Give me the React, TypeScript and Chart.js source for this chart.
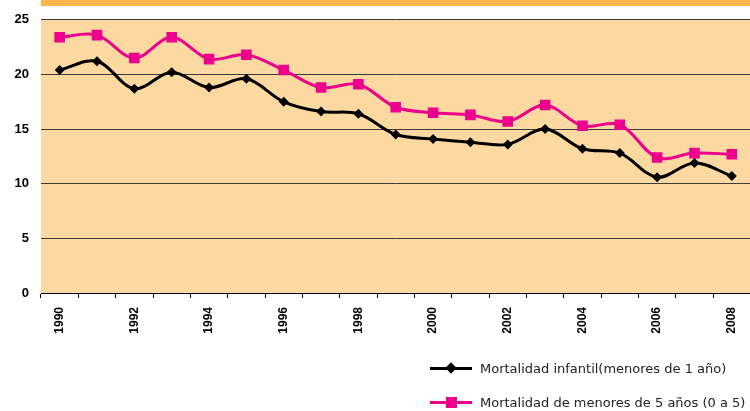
import React, { useEffect, useRef } from "react";
import { Chart, registerables } from "chart.js";

Chart.register(...registerables);

const years = ["1990","1991","1992","1993","1994","1995","1996","1997","1998","1999","2000","2001","2002","2003","2004","2005","2006","2007","2008"];
const infantil = [20.4, 21.2, 18.7, 20.2, 18.8, 19.6, 17.5, 16.6, 16.4, 14.5, 14.1, 13.8, 13.6, 15.0, 13.2, 12.8, 10.6, 11.9, 10.7];
const menores5 = [23.4, 23.6, 21.5, 23.4, 21.4, 21.8, 20.4, 18.8, 19.1, 17.0, 16.5, 16.3, 15.7, 17.2, 15.3, 15.4, 12.4, 12.8, 12.7];
const yTicks = [0, 5, 10, 15, 20, 25];
const legendLabels = ["Mortalidad infantil(menores de 1 año)", "Mortalidad de menores de 5 años (0 a 5)"];

const BLACK = "#000000";
const PINK = "#EC008C";
const PLOT_BG = "#FDD9A2";
const BAND = "#FBB64C";

const bgPlugin = {
  id: "bgPlugin",
  beforeDraw(chart: any) {
    const { ctx, chartArea } = chart;
    ctx.save();
    ctx.fillStyle = PLOT_BG;
    ctx.fillRect(chartArea.left, chartArea.top, chartArea.right - chartArea.left, chartArea.bottom - chartArea.top);
    ctx.fillStyle = BAND;
    ctx.fillRect(chartArea.left, 0, chart.width - chartArea.left, 6);
    ctx.restore();
  },
};

export default function App() {
  const ref = useRef<HTMLCanvasElement | null>(null);
  useEffect(() => {
    document.body.style.margin = "0";
    const chart = new Chart(ref.current!, {
      type: "line",
      data: {
        labels: years,
        datasets: [
          {
            label: legendLabels[0],
            data: infantil,
            borderColor: BLACK,
            backgroundColor: BLACK,
            borderWidth: 3,
            pointStyle: "rectRot",
            pointRadius: 5,
            pointBackgroundColor: BLACK,
            pointBorderColor: BLACK,
            pointBorderWidth: 0,
            tension: 0.35,
          },
          {
            label: legendLabels[1],
            data: menores5,
            borderColor: PINK,
            backgroundColor: PINK,
            borderWidth: 3,
            pointStyle: "rect",
            pointRadius: 7.5,
            pointBackgroundColor: PINK,
            pointBorderColor: PINK,
            pointBorderWidth: 0,
            tension: 0.35,
          },
        ],
      },
      options: {
        animation: false,
        responsive: false,
        maintainAspectRatio: false,
        layout: { padding: { top: 19, right: 0, left: 0, bottom: 0 } },
        plugins: { legend: { display: false }, tooltip: { enabled: false } },
        scales: {
          x: {
            type: "category",
            offset: true,
            grid: {
              offset: true,
              display: true,
              drawOnChartArea: false,
              drawTicks: true,
              tickLength: 5,
              color: "#000",
              lineWidth: 1,
            },
            border: { display: true, color: "#000", width: 1 },
            ticks: {
              autoSkip: false,
              minRotation: 90,
              maxRotation: 90,
              padding: 9,
              color: "#000",
              font: { family: "'Liberation Sans', Arial, sans-serif", size: 12, weight: "bold" },
              callback: (_v: any, i: number) => (i % 2 === 0 ? years[i] : ""),
            },
            afterFit: (s: any) => { s.height = 118; },
          },
          y: {
            min: 0,
            max: 25,
            afterBuildTicks: (s: any) => { s.ticks = yTicks.map((v) => ({ value: v })); },
            grid: { color: "#3a3a3a", lineWidth: 1, drawTicks: false },
            border: { display: false },
            ticks: {
              padding: 12,
              color: "#000",
              font: { family: "'Liberation Sans', Arial, sans-serif", size: 13, weight: "bold" },
            },
            afterFit: (s: any) => { s.width = 41; },
          },
        },
      },
      plugins: [bgPlugin],
    } as any);
    return () => chart.destroy();
  }, []);

  const legendItem = (i: number, top: number) => (
    <div style={{ position: "absolute", left: 430, top, height: 20, display: "flex", alignItems: "center" }}>
      <div style={{ position: "relative", width: 42, height: 20 }}>
        <div style={{ position: "absolute", left: 0, top: 8.5, width: 42, height: 3, background: i === 0 ? BLACK : PINK }} />
        {i === 0 ? (
          <div style={{ position: "absolute", left: 17, top: 6, width: 8, height: 8, background: BLACK, transform: "rotate(45deg)" }} />
        ) : (
          <div style={{ position: "absolute", left: 16, top: 5, width: 11, height: 11, background: PINK }} />
        )}
      </div>
      <span style={{ marginLeft: 8, fontFamily: "'DejaVu Sans', sans-serif", fontSize: 13, color: "#222", whiteSpace: "nowrap" }}>
        {legendLabels[i]}
      </span>
    </div>
  );

  return (
    <div style={{ position: "relative", width: 750, height: 411, overflow: "hidden" }}>
      <canvas ref={ref} width={758} height={411} style={{ display: "block" }} />
      {legendItem(0, 358)}
      {legendItem(1, 392)}
    </div>
  );
}
